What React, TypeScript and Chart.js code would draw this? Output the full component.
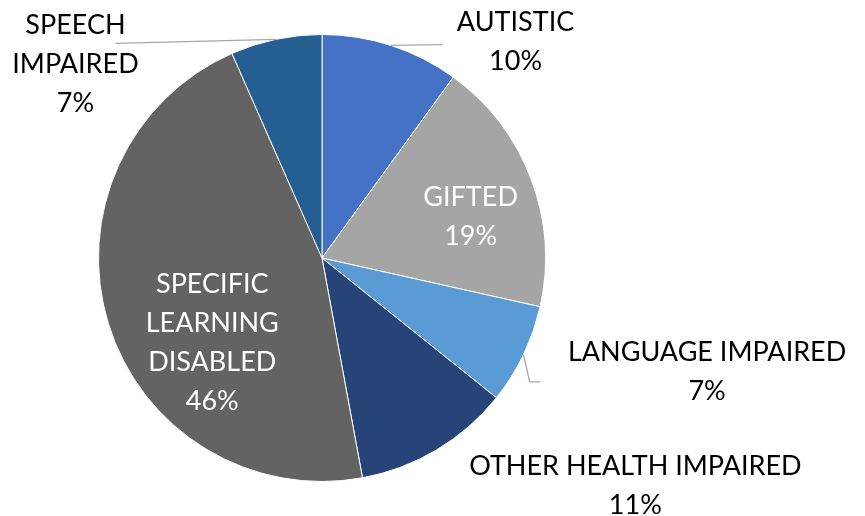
import React, { useEffect, useRef } from "react";
import { Chart, registerables } from "chart.js";

Chart.register(...registerables);

const categories = [
  "AUTISTIC",
  "GIFTED",
  "LANGUAGE IMPAIRED",
  "OTHER HEALTH IMPAIRED",
  "SPECIFIC LEARNING DISABLED",
  "SPEECH IMPAIRED",
];
const values = [10.0, 18.5, 7.25, 11.35, 46.3, 6.6];
const percentLabels = ["10%", "19%", "7%", "11%", "46%", "7%"];
const labelLines = [
  ["AUTISTIC"],
  ["GIFTED"],
  ["LANGUAGE IMPAIRED"],
  ["OTHER HEALTH IMPAIRED"],
  ["SPECIFIC", "LEARNING", "DISABLED"],
  ["SPEECH", "IMPAIRED"],
];
const colors = ["#4472C4", "#A5A5A5", "#5B9BD5", "#264478", "#636363", "#255E91"];

// label layout: block centre relative to pie centre, in units of radius
const labelLayout = [
  { dx: 0.866, dy: -0.971, color: "#000", leader: [[0.540, -0.955]] },
  { dx: 0.665, dy: -0.188, color: "#fff", leader: null },
  { dx: 1.723, dy: 0.504, color: "#000", leader: [[0.929, 0.554], [0.978, 0.554]] },
  { dx: 1.402, dy: 1.013, color: "#000", leader: null },
  { dx: -0.491, dy: 0.373, color: "#fff", leader: null },
  { dx: -1.103, dy: -0.871, color: "#000", leader: [[-0.924, -0.960]] },
];

const FONT = "27px Lato";
const LINE_H = 39;

const labelPlugin = {
  id: "pieLabels",
  afterDatasetsDraw(chart: any) {
    const ctx = chart.ctx;
    const meta = chart.getDatasetMeta(0);
    ctx.save();
    meta.data.forEach((arc: any, i: number) => {
      const { x, y, outerRadius, startAngle, endAngle } = arc.getProps(
        ["x", "y", "outerRadius", "startAngle", "endAngle"],
        true
      );
      const lay = labelLayout[i];
      const r = outerRadius;
      if (lay.leader) {
        const mid = (startAngle + endAngle) / 2;
        ctx.beginPath();
        ctx.moveTo(x + Math.cos(mid) * r, y + Math.sin(mid) * r);
        lay.leader.forEach((p: number[]) => ctx.lineTo(x + p[0] * r, y + p[1] * r));
        ctx.strokeStyle = "#A6A6A6";
        ctx.lineWidth = 1.3;
        ctx.stroke();
      }
      const lines = [...labelLines[i], percentLabels[i]];
      const cx = x + lay.dx * r;
      const cy = y + lay.dy * r;
      ctx.font = FONT;
      ctx.fillStyle = lay.color;
      ctx.textAlign = "center";
      ctx.textBaseline = "middle";
      const top = cy - ((lines.length - 1) * LINE_H) / 2;
      lines.forEach((t, k) => ctx.fillText(t, cx, top + k * LINE_H + 1));
    });
    ctx.restore();
  },
};

export default function App() {
  const ref = useRef<HTMLCanvasElement | null>(null);
  useEffect(() => {
    document.body.style.margin = "0";
    const chart = new Chart(ref.current as HTMLCanvasElement, {
      type: "pie",
      data: {
        labels: categories,
        datasets: [
          {
            data: values,
            backgroundColor: colors,
            borderColor: "#ffffff",
            borderWidth: 1,
          },
        ],
      },
      options: {
        responsive: false,
        animation: false,
        layout: { padding: { left: 98, right: 319, top: 34, bottom: 34 } },
        plugins: {
          legend: { display: false },
          tooltip: { enabled: false },
        },
      },
      plugins: [labelPlugin],
    });
    return () => chart.destroy();
  }, []);
  return (
    <div style={{ position: "absolute", left: 0, top: 0, width: 865, height: 516, background: "#fff" }}>
      <canvas ref={ref} width={865} height={516} />
    </div>
  );
}
